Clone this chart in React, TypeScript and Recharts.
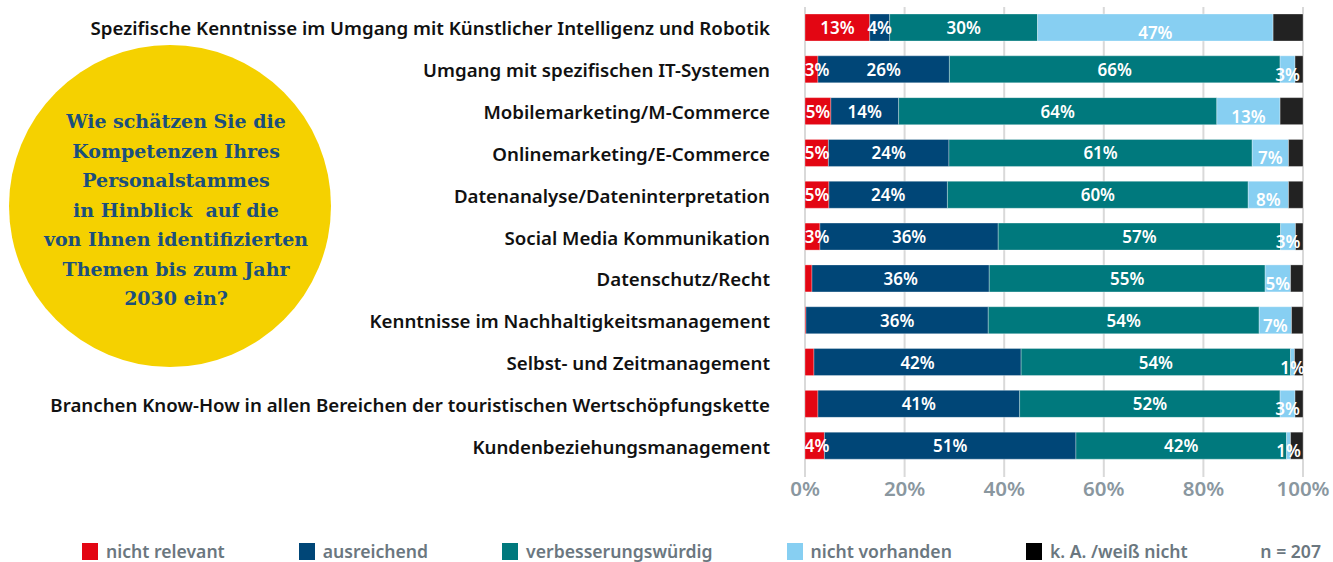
import { BarChart, Bar, XAxis, YAxis, CartesianGrid, LabelList } from 'recharts'

const CATEGORIES = [
  'Spezifische Kenntnisse im Umgang mit Künstlicher Intelligenz und Robotik',
  'Umgang mit spezifischen IT-Systemen',
  'Mobilemarketing/M-Commerce',
  'Onlinemarketing/E-Commerce',
  'Datenanalyse/Dateninterpretation',
  'Social Media Kommunikation',
  'Datenschutz/Recht',
  'Kenntnisse im Nachhaltigkeitsmanagement',
  'Selbst- und Zeitmanagement',
  'Branchen Know-How in allen Bereichen der touristischen Wertschöpfungskette',
  'Kundenbeziehungsmanagement',
]

// shares in percent
const NICHT_RELEVANT = [13, 2.6, 5.2, 4.7, 4.8, 3, 1.4, 0.2, 1.8, 2.6, 3.9]
const AUSREICHEND = [4, 26.4, 13.6, 24.2, 23.8, 35.8, 35.6, 36.6, 41.6, 40.5, 50.5]
const VERBESSERUNG = [29.7, 66.4, 63.9, 60.9, 60.4, 56.7, 55.4, 54.4, 54.1, 52.3, 42.3]
const NICHT_VORHANDEN = [47.3, 3, 12.7, 7.3, 8.1, 3, 5.1, 6.5, 0.8, 3, 0.8]
const KEINE_ANGABE = [6, 1.6, 4.6, 2.9, 2.9, 1.5, 2.5, 2.3, 1.7, 1.6, 2.5]

// printed labels (empty = no label in the original)
const NICHT_RELEVANT_LABELS = ['13%', '3%', '5%', '5%', '5%', '3%', '', '', '', '', '4%']
const AUSREICHEND_LABELS = ['4%', '26%', '14%', '24%', '24%', '36%', '36%', '36%', '42%', '41%', '51%']
const VERBESSERUNG_LABELS = ['30%', '66%', '64%', '61%', '60%', '57%', '55%', '54%', '54%', '52%', '42%']
const NICHT_VORHANDEN_LABELS = ['47%', '3%', '13%', '7%', '8%', '3%', '5%', '7%', '1%', '3%', '1%']
const KEINE_ANGABE_LABELS = ['', '', '', '', '', '', '', '', '', '', '']

const X_TICKS = [0, 20, 40, 60, 80, 100]

const SERIES = [
  { key: 'nr', name: 'nicht relevant', color: '#e30613', values: NICHT_RELEVANT, labels: NICHT_RELEVANT_LABELS },
  { key: 'au', name: 'ausreichend', color: '#004677', values: AUSREICHEND, labels: AUSREICHEND_LABELS },
  { key: 'vb', name: 'verbesserungswürdig', color: '#00797d', values: VERBESSERUNG, labels: VERBESSERUNG_LABELS },
  { key: 'nv', name: 'nicht vorhanden', color: '#87cff2', values: NICHT_VORHANDEN, labels: NICHT_VORHANDEN_LABELS },
  { key: 'ka', name: 'k. A. /weiß nicht', color: '#222222', values: KEINE_ANGABE, labels: KEINE_ANGABE_LABELS },
]

const FONT = '"Noto Sans", "Open Sans", sans-serif'

const chartData = CATEGORIES.map((name, i) => {
  const row: Record<string, string | number> = { name }
  SERIES.forEach((s) => {
    row[s.key] = s.values[i]
  })
  return row
})

// All segment labels are drawn from the last (top-most) bar so that no later
// segment paints over them. Segment edges are walked back from that bar's
// geometry using its pixels-per-percent.
const SegmentLabels = (props: any) => {
  const { x, y, width, height, index } = props
  const last = SERIES[SERIES.length - 1]
  const pxPer = Number(width) / last.values[index]
  let right = Number(x) + Number(width)
  const out: any[] = []
  for (let k = SERIES.length - 1; k >= 0; k--) {
    const s = SERIES[k]
    const w = s.values[index] * pxPer
    const left = right - w
    const label = s.labels[index]
    if (label) {
      const cx = s.key === 'nr' ? Math.max(left + w / 2, left + 12) : left + w / 2
      out.push(
        <text
          key={s.key}
          x={cx}
          y={Number(y) + Number(height) / 2 + (s.key === 'nv' ? 5 : 0)}
          textAnchor="middle"
          dominantBaseline="central"
          fill="#ffffff"
          style={{ fontFamily: FONT, fontWeight: 600, fontSize: 17 }}
        >
          {label}
        </text>
      )
    }
    right = left
  }
  return <g>{out}</g>
}

const CategoryTick = (props: any) => {
  const { y, payload } = props
  return (
    <text
      x={770}
      y={y}
      textAnchor="end"
      dominantBaseline="central"
      fill="#111111"
      style={{ fontFamily: FONT, fontWeight: 600, fontSize: 18.7 }}
    >
      {payload.value}
    </text>
  )
}

export default function App() {
  return (
    <div style={{ position: 'relative', width: 1333, height: 562, background: '#fff', overflow: 'hidden' }}>
      <style>{'body { margin: 0; }'}</style>

      <div
        style={{
          position: 'absolute',
          left: 9,
          top: 45,
          width: 322,
          height: 322,
          borderRadius: '50%',
          background: '#f5d100',
        }}
      />
      <div
        style={{
          position: 'absolute',
          left: 16,
          top: 107,
          width: 320,
          textAlign: 'center',
          fontFamily: '"DejaVu Serif", serif',
          fontWeight: 700,
          fontSize: 19,
          lineHeight: '29.5px',
          color: '#1b4f7c',
        }}
      >
        Wie schätzen Sie die
        <br />
        Kompetenzen Ihres
        <br />
        Personalstammes
        <br />
        in Hinblick&nbsp; auf die
        <br />
        von Ihnen identifizierten
        <br />
        Themen bis zum Jahr
        <br />
        2030 ein?
      </div>

      <div style={{ position: 'absolute', left: 0, top: 0 }}>
        <BarChart
          width={1333}
          height={502}
          data={chartData}
          layout="vertical"
          margin={{ top: 7, right: 30, left: 0, bottom: 0 }}
          barSize={27}
        >
          <CartesianGrid horizontal={false} stroke="#d9d9d9" strokeWidth={2} />
          <XAxis
            type="number"
            domain={[0, 100]}
            ticks={X_TICKS}
            tickFormatter={(v) => `${v}%`}
            axisLine={false}
            tickLine={{ stroke: '#d9d9d9', strokeWidth: 2 }}
            tickSize={10}
            tickMargin={4}
            height={35}
            interval={0}
            tick={{ fill: '#8a979f', fontFamily: FONT, fontWeight: 600, fontSize: 20.5 }}
          />
          <YAxis
            type="category"
            dataKey="name"
            width={805}
            axisLine={false}
            tickLine={false}
            interval={0}
            tick={<CategoryTick />}
          />
          {SERIES.map((s, i) => (
            <Bar
              key={s.key}
              dataKey={s.key}
              stackId="a"
              fill={s.color}
              stroke="#ffffff"
              strokeOpacity={0.3}
              strokeWidth={1}
              isAnimationActive={false}
            >
              {i === SERIES.length - 1 && <LabelList dataKey={s.key} content={SegmentLabels} />}
            </Bar>
          ))}
        </BarChart>
      </div>

      <div
        style={{
          position: 'absolute',
          left: 82,
          top: 541,
          height: 20,
          display: 'flex',
          alignItems: 'center',
          fontFamily: FONT,
          fontWeight: 600,
          fontSize: 17.6,
          lineHeight: '20px',
          color: '#6b777f',
        }}
      >
        {SERIES.map((s) => (
          <div key={s.key} style={{ display: 'flex', alignItems: 'center', marginRight: 74 }}>
            <span style={{ display: 'inline-block', width: 16, height: 17, background: s.key === 'ka' ? '#000' : s.color, marginRight: 8 }} />
            <span>{s.name}</span>
          </div>
        ))}
      </div>
      <div
        style={{
          position: 'absolute',
          right: 12,
          top: 541,
          fontFamily: FONT,
          fontWeight: 600,
          fontSize: 17.6,
          lineHeight: '20px',
          color: '#6b777f',
        }}
      >
        n = 207
      </div>
    </div>
  )
}
